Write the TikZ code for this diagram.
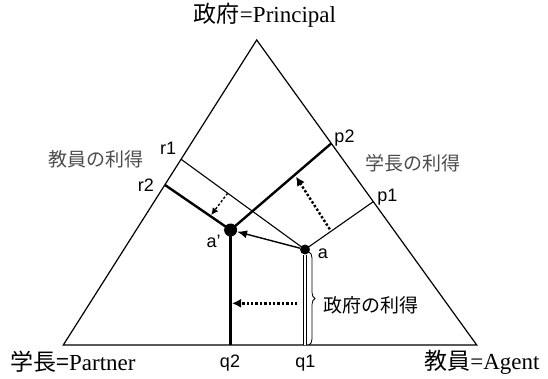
\documentclass[tikz,border=0pt]{standalone}
\usepackage{fontspec}
\setmainfont{Liberation Serif}
\newfontfamily\jpfont{Noto Sans CJK JP}
\newfontfamily\lblfont{Liberation Sans}
\usepackage{tikz}
\usetikzlibrary{arrows, arrows.meta, calc, decorations.pathreplacing}
\definecolor{lblgray}{gray}{0.3}
\tikzstyle{side}      = [line width=1.2pt, line join=miter]
\tikzstyle{thinline}  = [line width=1.1pt]
\tikzstyle{thickline} = [line width=2.4pt]
\tikzstyle{dbline}    = [double, line width=0.9pt, double distance=1.6pt]
\tikzstyle{arrow}     = [line width=1.4pt, -{Latex[length=10pt,width=8pt]}]
\tikzstyle{dotarrow}  = [line width=2.4pt, dotted, -{Latex[length=9pt,width=9pt]}]
\tikzstyle{dot}       = [circle, fill=black, inner sep=0pt]
\tikzstyle{lbl}       = [inner sep=0pt, font=\lblfont\fontsize{18}{18}\selectfont]
\tikzstyle{gain}      = [inner sep=0pt, font=\jpfont\fontsize{19}{19}\selectfont]
\tikzstyle{corner}    = [inner sep=0pt, font=\fontsize{23}{23}\selectfont]

\begin{document}
\begin{tikzpicture}[x=1pt,y=1pt]
\useasboundingbox (0,0) rectangle (548,378);

\coordinate (P) at (256.7,338);
\coordinate (L) at (63.3,33);
\coordinate (R) at (476.7,33);
\coordinate (p1) at ($(P)!0.53!(R)$);
\coordinate (p2) at ($(P)!0.339!(R)$);
\coordinate (r1) at ($(P)!0.391!(L)$);
\coordinate (r2) at ($(P)!0.475!(L)$);

\node[dot,minimum size=10pt] (a)  at (305,128.5) {};
\node[dot,minimum size=13pt] (a2) at (230.6,148) {};
\coordinate (q1) at (a |- L);
\coordinate (q2) at (a2 |- L);

\draw[side] (P) -- (L) -- (R) -- cycle;
\draw[thinline] (a.center) -- (p1);
\draw[thinline] (a.center) -- (r1);
\draw[thickline] (a2.center) -- (p2);
\draw[thickline] (a2.center) -- (r2);
\draw[thickline] (a2.center) -- (q2);
\draw[dbline] (a) -- (q1);
\draw[arrow] (a) -- (a2);

\coordinate (s1) at (297.4,74.7);
\coordinate (e1) at (232,74.7);
\coordinate (s2) at (329.8,148.7);
\coordinate (e2) at (296,201.3);
\coordinate (s3) at (227.6,184.7);
\coordinate (e3) at (211.2,163);
\draw[dotarrow] (s1) -- (e1);
\draw[dotarrow] (s2) -- (e2);
\draw[dotarrow, line width=1.4pt, -{Latex[length=7pt,width=7pt]}] (s3) -- (e3);

\coordinate (b1) at (309,126);
\coordinate (b2) at (309,33);
\draw[decorate, decoration={brace, amplitude=6pt}, line width=0.8pt] (b1) -- (b2);

\node[corner] (prin) at (265,363) {{\jpfont 政府}=Principal};
\node[corner] (part) at (73,16) {{\jpfont 学長=}Partner};
\node[corner] (agen) at (482,16) {{\jpfont 教員}=Agent};

\node[gain,text=lblgray] (gr) at (96,218.7) {教員の利得};
\node[gain,text=lblgray] (gp) at (413,214.7) {学長の利得};
\node[gain,anchor=west] (gg) at (323,73) {政府の利得};

\node[lbl] (lp1) at (387.4,181) {p1};
\node[lbl] (lp2) at (344.5,240) {p2};
\node[lbl] (lr1) at (168.2,230) {r1};
\node[lbl] (lr2) at (145.9,193) {r2};
\node[lbl] (lq1) at (305.4,15) {q1};
\node[lbl] (lq2) at (230,15) {q2};
\node[lbl] (la)  at (322.9,124) {a};
\node[lbl] (la2) at (213.6,136.3) {a’};

\end{tikzpicture}
\end{document}
